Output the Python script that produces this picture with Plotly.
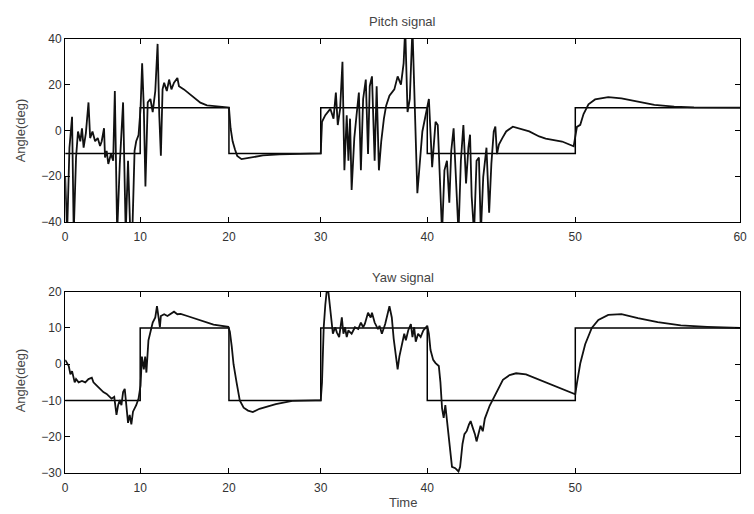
import numpy as np
import plotly.graph_objects as go

# ---------------- data ----------------
tick_time = [0, 10, 20, 30, 40, 50, 60]
pitch_tick_labels = ["0", "10", "20", "30", "40", "50", "60"]
yaw_tick_labels = ["0", "10", "20", "30", "40", "50"]
pitch_yticks = [-40, -20, 0, 20, 40]
yaw_yticks = [-30, -20, -10, 0, 10, 20]

# reference (command) signal, step-wise
ref_t = [0, 10, 20, 30, 40, 50, 60]
ref_v = [-10, 10, -10, 10, -10, 10, 10]

pitch_t = [0, 0.26, 0.57, 0.92, 1.14, 1.45, 1.71, 2.02, 2.24, 2.46, 2.76, 3.11, 3.33, 3.64,
           3.99, 4.34, 4.65, 4.87, 5.18, 5.31, 5.53, 5.75, 6.1, 6.4, 6.62, 6.93, 7.28, 7.72,
           8.07, 8.38, 8.68, 8.95, 9.25, 9.47, 9.78, 10.04, 10.22, 10.41, 10.59, 10.85, 11.15,
           11.41, 11.7, 11.96, 12.15, 12.33, 12.52, 12.7, 13.0, 13.26, 13.52, 13.81, 14.19,
           14.37, 14.93, 15.67, 16.78, 17.52, 18.63, 20.0, 20.18, 20.4, 20.65, 20.9, 21.37,
           22.26, 23.7, 25.5, 29.95, 30.0, 30.12, 30.43, 30.9, 31.2, 31.42, 31.6, 31.82, 32.04,
           32.22, 32.44, 32.6, 32.75, 32.9, 33.15, 33.36, 33.58, 33.77, 33.98, 34.23, 34.44,
           34.6, 34.81, 35.06, 35.25, 35.46, 35.68, 35.93, 36.14, 36.45, 36.91, 37.22, 37.53,
           37.78, 37.93, 38.15, 38.36, 38.61, 38.83, 39.07, 39.54, 40.11, 40.33, 40.56, 40.71,
           40.84, 41.0, 41.16, 41.33, 41.49, 41.62, 41.78, 41.93, 42.11, 42.27, 42.44, 42.62,
           42.78, 42.89, 43.0, 43.16, 43.33, 43.49, 43.62, 43.78, 44.0, 44.18, 44.33, 44.49,
           44.6, 44.71, 44.84, 45.07, 45.33, 45.78, 46.22, 46.89, 47.56, 48.0, 49.11, 49.89,
           50.1, 50.3, 50.5, 50.8, 51.2, 52.0, 52.8, 53.8, 54.8, 56.0, 57.2, 60.0]
pitch_v = [-20, -45, -7.5, 6, -45, -11.8, -0.4, -4.7, 1, -7.5, -1.1, 12.3, -3.3, -0.4,
           -4.7, -3.3, -6.8, -4.7, 1, -11.8, -8.9, -14.6, -10.3, -13.2, 17.3, -45, -14.6, 12.3,
           -45, -13.2, -45, -45, -8.9, -4.7, -2, 9.5, 29.4, 9.5, -24.5, 12.3, 13.8,
           8.1, 17.3, 37.9, 6.7, -11, 18, 20.9, 17.3, 22.3, 18, 20.9, 23,
           19.4, 18, 15.7, 12.2, 11, 10.5, 10.1, 1, -4.7, -8.2, -11.1, -12.5,
           -11.8, -10.9, -10.4, -10, -10, 3.8, 6.7, 9.5, 5.2, 16.6, 2.4, 9.5, 30.1,
           -17.4, 6.7, -13.2, 5.2, -26, -3.3, 6.7, 16.6, -17.4, 13.8, 22.3, -10.3,
           19.4, 23.7, -13.2, 19.4, -17.4, -4.7, 5.2, 10.9, 15.2, 18, 23.7, 20.1,
           29.4, 45, 8.1, 13.8, 45, 13.8, -27.4, -0.4, 13.8, -16, 3.8, 2.4,
           -17.4, -45, -17.4, -13.2, -31.6, -8.9, 1, -23.1, -45, -13.2, 2.4, -23.1,
           -7.5, -1.8, -28.8, -45, -13.2, -11.8, -45, -20.3, -7.5, -35.9, -14.6, -0.4,
           1.7, -10.3, -6.1, -3.3, -0.4, 1.7, 1, -0.4, -2.6, -3.5, -4.8, -6.9,
           1.6, 2.5, 7.2, 11.5, 13.6, 14.6, 14.1, 12.6, 11.2, 10.5, 10.1, 10]

yaw_t = [0, 0.48, 0.7, 0.92, 1.27, 1.45, 1.8, 2.24, 2.68, 3.11, 3.55, 3.77, 4.21, 4.65,
         5.09, 5.53, 5.96, 6.18, 6.54, 6.84, 7.06, 7.28, 7.5, 7.72, 7.94, 8.16, 8.38, 8.6,
         8.82, 9.04, 9.47, 9.78, 10.04, 10.19, 10.41, 10.56, 10.7, 10.93, 11.15, 11.41,
         11.7, 11.89, 12.07, 12.22, 12.33, 12.7, 13.07, 13.44, 13.81, 14.19, 14.56, 15.3,
         16.78, 18.26, 19.93, 20.1, 20.3, 20.5, 20.83, 21.18, 21.6, 22.08, 22.6, 23.33,
         25.1, 26.9, 29.4, 30.0, 30.12, 30.28, 30.43, 30.59, 30.68, 30.8, 30.96, 31.14,
         31.36, 31.51, 31.73, 31.98, 32.13, 32.28, 32.44, 32.59, 32.9, 33.21, 33.52, 33.77,
         33.98, 34.14, 34.44, 34.69, 34.81, 35.06, 35.37, 35.52, 35.74, 36.05, 36.45, 36.67,
         36.85, 37.07, 37.22, 37.38, 37.59, 37.84, 37.99, 38.21, 38.46, 38.61, 38.77, 38.92,
         39.14, 39.38, 39.63, 39.85, 40.0, 40.11, 40.22, 40.4, 40.56, 40.78, 40.89, 41.0,
         41.11, 41.22, 41.33, 41.44, 41.56, 41.67, 41.89, 42.11, 42.22, 42.38, 42.51, 42.67,
         42.82, 42.93, 43.07, 43.22, 43.33, 43.6, 43.75, 43.89, 44.22, 44.67, 45.11, 45.56,
         46.0, 46.67, 47.56, 48.67, 49.78, 50.0, 50.1, 50.3, 50.6, 51.0, 51.4, 52.0, 52.8,
         53.8, 55.0, 56.4, 58.0, 60.0]
yaw_v = [1.2, -0.5, -2.8, -1.9, -5, -4.1, -5, -4.6, -5, -4.1, -3.7, -5, -5.9, -6.8,
         -7.7, -8.2, -9, -9.5, -9, -14, -11.3, -9.9, -11.3, -7.7, -6.8, -12.5, -16.2, -14,
         -16.6, -13.1, -11.3, -9.5, -5.9, 2.1, -1.4, 2.1, -2.3, 6.6, 9.3, 11.5,
         12.9, 16, 12.9, 10.2, 13.3, 13.8, 13.3, 13.9, 14.5, 13.8, 13.9, 13.3,
         12, 10.9, 10.3, 9, 5, 0, -5, -10, -12, -12.8, -13.2, -12.3,
         -11, -10.1, -10, -10, -5, 10.2, 16.4, 21, 21, 17.3, 12.9, 8.4,
         10.2, 8.8, 7.5, 12.9, 8.4, 10.2, 7.5, 9.3, 8.4, 10.2, 9.7, 11.5,
         10.2, 11.1, 14.2, 12.9, 14.2, 11.5, 9.7, 10.6, 8.4, 11.1, 16, 12.9,
         7, 1.2, -1.4, 2.1, 4.8, 8.4, 6.6, 9.3, 11.1, 7.5, 10.2, 6.2,
         8.4, 7.5, 9.3, 10.2, 10.6, 8.4, 3.9, 1.2, 0.3, -0.5, -5, -12.2,
         -14.8, -11.3, -15.7, -21.1, -25.6, -28.3, -28.7, -29.6, -28.3, -22, -19.3, -18.4,
         -16.6, -15.7, -17.5, -19.3, -21.3, -17, -18.5, -15, -11.4, -7.9, -4.3, -3,
         -2.5, -2.8, -4.3, -6.1, -7.9, -8.3, -5.2, 0.2, 5.5, 10, 12.2, 13.6, 13.8,
         12.7, 11.6, 10.7, 10.3, 10]

# ------------- time-axis scale of the original (stretched toward the right) -------------
tick_display = [0, 6.67, 14.56, 22.72, 32.19, 45.35, 60]


def tscale(t):
    return np.interp(np.asarray(t, dtype=float), tick_time, tick_display)


W, H = 754, 514
TICKFONT = dict(family="Liberation Sans, Arial, sans-serif", size=12, color="#333333")
LABELFONT = dict(family="Liberation Sans, Arial, sans-serif", size=13, color="#444444")


def px_x(p):
    return p / W


def px_y(p):
    return 1 - p / H


fig = go.Figure()

# Pitch
fig.add_trace(go.Scatter(x=tscale(ref_t), y=ref_v, mode="lines", line_shape="hv",
                         line=dict(color="black", width=1.5), xaxis="x", yaxis="y", showlegend=False))
fig.add_trace(go.Scatter(x=tscale(pitch_t), y=pitch_v, mode="lines",
                         line=dict(color="#111111", width=1.8), xaxis="x", yaxis="y", showlegend=False))
# Yaw
fig.add_trace(go.Scatter(x=tscale(ref_t), y=ref_v, mode="lines", line_shape="hv",
                         line=dict(color="black", width=1.5), xaxis="x2", yaxis="y2", showlegend=False))
fig.add_trace(go.Scatter(x=tscale(yaw_t), y=yaw_v, mode="lines",
                         line=dict(color="#111111", width=1.8), xaxis="x2", yaxis="y2", showlegend=False))

axis_common = dict(showgrid=False, zeroline=False, showline=True, linecolor="black", linewidth=1.3,
                   mirror="ticks", ticks="inside", ticklen=5, tickwidth=1.2, tickcolor="black",
                   tickfont=TICKFONT)

xdom = [px_x(63), px_x(747)]
fig.update_layout(
    width=W, height=H,
    margin=dict(l=0, r=0, t=0, b=0),
    paper_bgcolor="white", plot_bgcolor="white",
    xaxis=dict(domain=xdom, range=[0, 60], anchor="y", ticklabelstandoff=3,
               tickmode="array", tickvals=list(tscale(tick_time)), ticktext=pitch_tick_labels,
               **axis_common),
    yaxis=dict(domain=[px_y(221), px_y(33)], range=[-40, 40], anchor="x",
               tickmode="array", tickvals=pitch_yticks, **axis_common),
    xaxis2=dict(domain=xdom, range=[0, 60], anchor="y2", ticklabelstandoff=3,
                tickmode="array", tickvals=list(tscale(tick_time[:6])), ticktext=yaw_tick_labels,
                **axis_common),
    yaxis2=dict(domain=[px_y(479), px_y(292.7)], range=[-30, 20], anchor="x2",
                tickmode="array", tickvals=yaw_yticks, **axis_common),
    annotations=[
        dict(text="Pitch signal", x=px_x(405), y=px_y(15), xref="paper", yref="paper",
             showarrow=False, font=LABELFONT, xanchor="center", yanchor="middle"),
        dict(text="Yaw signal", x=px_x(405), y=px_y(278), xref="paper", yref="paper",
             showarrow=False, font=LABELFONT, xanchor="center", yanchor="middle"),
        dict(text="Time", x=px_x(405), y=px_y(509), xref="paper", yref="paper",
             showarrow=False, font=LABELFONT, xanchor="center", yanchor="middle"),
        dict(text="Angle(deg)", x=px_x(18), y=px_y(127), xref="paper", yref="paper",
             showarrow=False, font=LABELFONT, textangle=-90, xanchor="center", yanchor="middle"),
        dict(text="Angle(deg)", x=px_x(18), y=px_y(384), xref="paper", yref="paper",
             showarrow=False, font=LABELFONT, textangle=-90, xanchor="center", yanchor="middle"),
    ],
)

fig.write_html("out.html")
